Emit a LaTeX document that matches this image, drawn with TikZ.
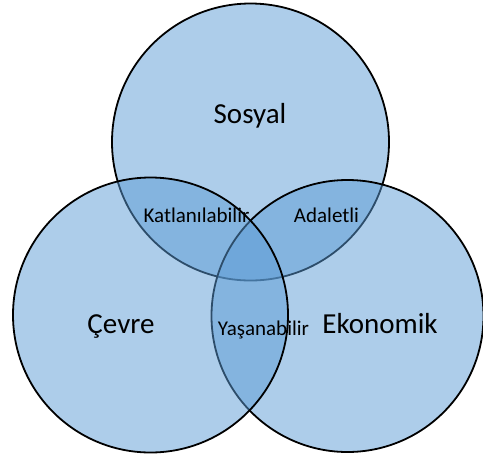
\documentclass[tikz,border=0pt]{standalone}
\usepackage{fontspec}
\setmainfont{Carlito}
\definecolor{vennblue}{HTML}{5B9BD5}
\begin{document}
\begin{tikzpicture}[x=1pt,y=-1pt,
  venn/.style={circle,draw=black,line width=1.8pt,fill=vennblue,fill opacity=0.5,inner sep=0pt},
  big/.style={font=\fontsize{29}{33}\selectfont,anchor=base,inner sep=0pt},
  small/.style={font=\fontsize{21}{25}\selectfont,anchor=base,inner sep=0pt}]
\useasboundingbox (0,0) rectangle (483,459);
\node[venn,minimum size=277pt] (sos) at (250.5,142) {};
\node[venn,minimum size=272pt] (eko) at (347.5,316) {};
\node[venn,minimum size=275pt] (cev) at (150.5,315) {};
\node[big] (tsos) at (250,123) {Sosyal};
\node[big] (tcev) at (121,333) {Çevre};
\node[big] (teko) at (380,333) {Ekonomik};
\node[small] (tkat) at (196.5,222) {Katlanılabilir};
\node[small] (tada) at (326.5,222) {Adaletli};
\node[small] (tyas) at (263.5,335) {Yaşanabilir};
\end{tikzpicture}
\end{document}
